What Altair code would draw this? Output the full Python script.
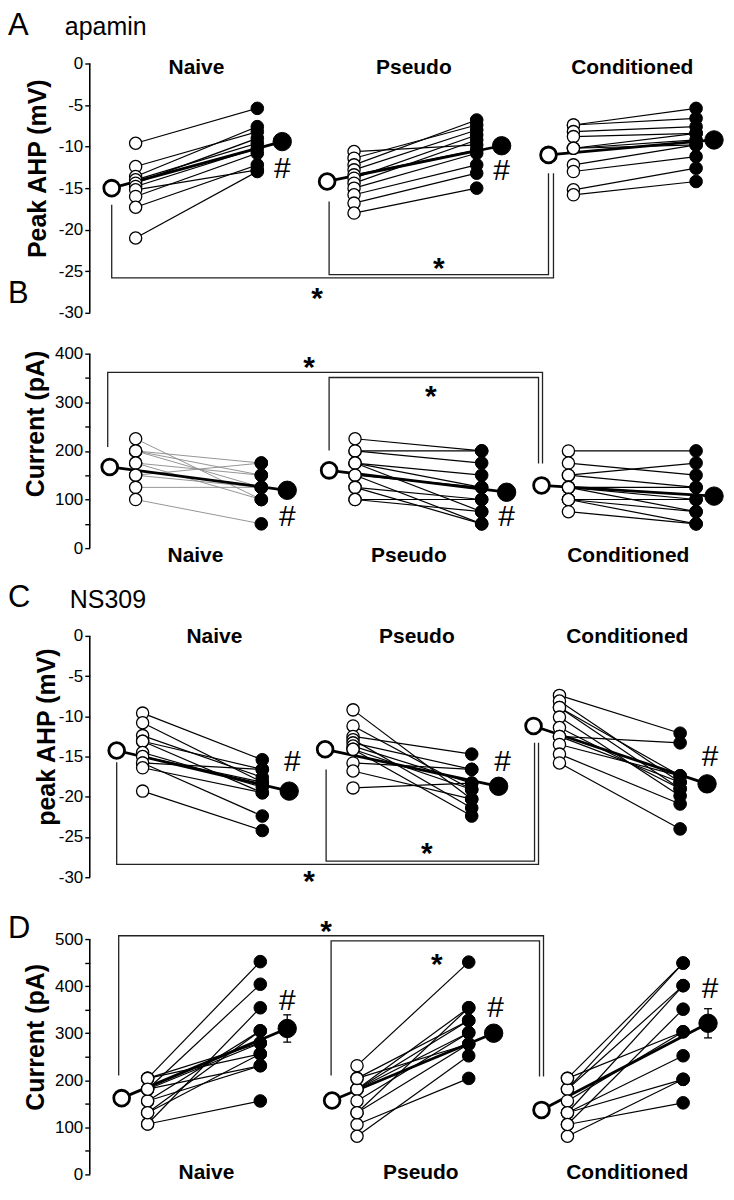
import altair as alt
import pandas as pd

GROUPS = ["Naive", "Pseudo", "Conditioned"]

# ---------------- data ----------------
# A : apamin, peak AHP (mV)  -- before (open) / after (filled)
A_NAIVE_PRE = [-9.6, -12.4, -13.6, -14.0, -14.4, -14.8, -15.2, -16.0, -17.3, -21.0]
A_NAIVE_POST = [-5.4, -8.2, -7.6, -9.6, -9.0, -10.2, -12.8, -10.8, -12.2, -13.0]
A_PSEUDO_PRE = [-10.6, -11.4, -12.2, -12.8, -13.4, -13.8, -14.4, -15.0, -15.8, -16.8, -18.0]
A_PSEUDO_POST = [-9.8, -7.4, -6.8, -8.0, -10.4, -8.6, -9.2, -10.8, -12.2, -13.2, -15.0]
A_COND_PRE = [-7.4, -7.4, -8.2, -8.8, -10.2, -10.2, -10.2, -12.2, -13.0, -15.2, -15.8]
A_COND_POST = [-5.4, -6.6, -7.6, -8.4, -9.2, -9.8, -8.4, -9.8, -11.2, -12.6, -14.2]
A_MEAN_PRE = [-15.0, -14.2, -11.0]
A_MEAN_POST = [-9.4, -9.9, -9.2]

# B : apamin, current (pA)
B_NAIVE_PRE = [225, 200, 200, 200, 175, 175, 150, 150, 125, 100]
B_NAIVE_POST = [100, 175, 150, 125, 150, 100, 125, 175, 125, 50]
B_PSEUDO_PRE = [225, 200, 200, 175, 175, 175, 150, 150, 125, 125, 100, 100]
B_PSEUDO_POST = [200, 200, 175, 150, 125, 75, 125, 50, 100, 50, 100, 75]
B_COND_PRE = [200, 175, 150, 150, 125, 125, 125, 100, 100, 100, 75]
B_COND_POST = [200, 150, 175, 125, 125, 100, 75, 100, 75, 50, 50]
B_MEAN_PRE = [167, 160, 129]
B_MEAN_POST = [119, 115, 107]

# C : NS309, peak AHP (mV)
C_NAIVE_PRE = [-9.6, -10.8, -12.4, -13.1, -13.1, -14.5, -15.0, -15.8, -15.8, -16.4, -19.3]
C_NAIVE_POST = [-15.4, -18.2, -17.6, -16.6, -19.5, -18.8, -18.2, -16.6, -22.4, -19.5, -24.2]
C_PSEUDO_PRE = [-9.2, -11.2, -12.5, -12.9, -13.3, -13.7, -14.1, -14.1, -15.8, -16.8, -18.9]
C_PSEUDO_POST = [-20.3, -19.1, -14.7, -21.4, -16.6, -18.3, -22.4, -19.1, -16.6, -20.3, -18.3]
C_COND_PRE = [-7.4, -8.1, -8.9, -8.9, -10.1, -11.4, -12.5, -12.5, -13.5, -14.7, -15.8]
C_COND_POST = [-12.1, -18.2, -19.0, -17.4, -19.9, -19.0, -13.3, -18.2, -17.4, -20.9, -24.0]
C_MEAN_PRE = [-14.25, -14.1, -11.2]
C_MEAN_POST = [-19.3, -18.7, -18.4]

# D : NS309, current (pA)
D_NAIVE_PRE = [204, 181, 107, 156, 204, 181, 131, 204, 156, 181, 107, 131]
D_NAIVE_POST = [452, 404, 354, 305, 279, 279, 256, 256, 231, 231, 156, 305]
D_PSEUDO_PRE = [231, 204, 181, 181, 181, 156, 131, 204, 106, 81, 131]
D_PSEUDO_POST = [451, 277, 354, 327, 301, 301, 277, 327, 204, 252, 354]
D_COND_PRE = [204, 181, 181, 131, 106, 156, 204, 131, 81, 131, 106]
D_COND_POST = [449, 449, 401, 401, 351, 303, 303, 252, 202, 202, 152]
D_MEAN_PRE = [162, 157, 137]
D_MEAN_POST = [310, 300, 321]
D_MEAN_SEM = [29, 12, 31]

# ---------------- layout / style ----------------
XW = 636  # plot width (x units == px from the y axis)
FONT = "Liberation Sans"

PANELS = [
    dict(
        pre=[A_NAIVE_PRE, A_PSEUDO_PRE, A_COND_PRE], post=[A_NAIVE_POST, A_PSEUDO_POST, A_COND_POST],
        mpre=A_MEAN_PRE, mpost=A_MEAN_POST, sem=None,
        height=322, domain=[-32.16, 6.48], yr=[-30, 0], ticks=list(range(-30, 1, 5)), major=5,
        title="Peak AHP (mV)", titleX=-39, titleY=159,
        xpos=[(22, 46, 168, 193), (238, 265, 388, 413), (460, 485, 608, 626)],
        gray_naive=False,
        brackets=[[(22, -17.0), (22, -25.8), (465, -25.8), (465, -13.2)],
                  [(240, -16.6), (240, -25.4), (460, -25.4), (460, -13.2)]],
        stars=[(228, -27.4), (350, -23.8)],
        hashes=[(193, -12.7), (413, -13.0)],
        labels=[(107, -0.6), (325, -0.6), (544, -0.6)],
        letter=("A", -82, 3.48), letter_base="alphabetic", sub=("apamin", -25, 3.48),
    ),
    dict(
        pre=[B_NAIVE_PRE, B_PSEUDO_PRE, B_COND_PRE], post=[B_NAIVE_POST, B_PSEUDO_POST, B_COND_POST],
        mpre=B_MEAN_PRE, mpost=B_MEAN_POST, sem=None,
        height=260, domain=[-86.15, 447.18], yr=[0, 400], ticks=list(range(0, 401, 50)), major=100,
        title="Current (pA)", titleX=-41, titleY=93,
        xpos=[(20, 46, 172, 198), (240, 266, 393, 418), (453, 480, 608, 626)],
        gray_naive=True,
        brackets=[[(18, 208), (18, 361.6), (454, 361.6), (454, 174)],
                  [(240, 201), (240, 351), (450, 351), (450, 174)]],
        stars=[(220, 386), (342, 328)],
        hashes=[(198, 63), (418, 63)],
        labels=[(106, -16.4), (320, -16.4), (540, -16.4)],
        letter=("B", -82, 523), letter_base="middle", sub=None,
    ),
    dict(
        pre=[C_NAIVE_PRE, C_PSEUDO_PRE, C_COND_PRE], post=[C_NAIVE_POST, C_PSEUDO_POST, C_COND_POST],
        mpre=C_MEAN_PRE, mpost=C_MEAN_POST, sem=None,
        height=312, domain=[-32.98, 5.70], yr=[-30, 0], ticks=list(range(-30, 1, 5)), major=5,
        title="peak AHP (mV)", titleX=-30, titleY=147,
        xpos=[(27, 53, 173, 200), (236, 264, 383, 410), (445, 471, 592, 619)],
        gray_naive=False,
        brackets=[[(27, -15.7), (27, -28.4), (450, -28.4), (450, -13.3)],
                  [(237, -16.6), (237, -28.0), (446, -28.0), (446, -13.3)]],
        stars=[(220, -29.6), (338, -26.1)],
        hashes=[(203, -15.7), (414, -15.7), (622, -15.1)],
        labels=[(125, -0.1), (328, -0.1), (539, -0.1)],
        letter=("C", -82, 4.71), letter_base="middle", sub=("NS309", -20, 4.46),
    ),
    dict(
        pre=[D_NAIVE_PRE, D_PSEUDO_PRE, D_COND_PRE], post=[D_NAIVE_POST, D_PSEUDO_POST, D_COND_POST],
        mpre=D_MEAN_PRE, mpost=D_MEAN_POST, sem=D_MEAN_SEM,
        height=284, domain=[-21.19, 580.51], yr=[0, 500], ticks=list(range(0, 501, 50)), major=100,
        title="Current (pA)", titleX=-41, titleY=136,
        xpos=[(32, 58, 171, 198), (243, 268, 380, 405), (453, 479, 595, 620)],
        gray_naive=False,
        brackets=[[(29, 210), (29, 507), (455, 507), (455, 208)],
                  [(242, 210), (242, 496), (451, 496), (451, 208)]],
        stars=[(237, 531), (348, 462)],
        hashes=[(198, 368), (407, 354), (622, 394)],
        labels=[(117, 2.1), (332, 2.1), (539, 2.1)],
        letter=("D", -82, 521), letter_base="middle", sub=None,
    ),
]


def build_panel(P):
    xs = alt.Scale(domain=[0, XW], nice=False, zero=False)
    ys = alt.Scale(domain=P["domain"], nice=False, zero=False)
    X = alt.X("x:Q", scale=xs, axis=None)

    if P["major"] == 5:
        lab = "'' + datum.value"
    else:
        lab = "datum.value % " + str(P["major"]) + " === 0 ? '' + datum.value : ''"
    axis = alt.Axis(
        values=P["ticks"], labelExpr=lab, domain=False, grid=False, ticks=True,
        tickSize=5, tickWidth=1.4, tickColor="black",
        labelFont=FONT, labelFontSize=17, labelColor="black", labelPadding=2,
        labelOverlap=False, labelFlush=False,
        title=P["title"], titleFont=FONT, titleFontSize=25, titleFontWeight="bold",
        titleColor="black", titleX=P["titleX"], titleY=P["titleY"], titleAngle=270,
        titleAlign="center", titleBaseline="bottom",
    )
    Y = alt.Y("y:Q", scale=ys, axis=axis)

    layers = []
    # axis line
    ax_df = pd.DataFrame({"x": [0], "y": [P["yr"][0]], "y2": [P["yr"][1]]})
    layers.append(alt.Chart(ax_df).mark_rule(color="black", strokeWidth=1.6).encode(
        x=X, y=Y, y2="y2:Q"))

    # significance brackets
    rows = []
    for bi, pts in enumerate(P["brackets"]):
        for oi, (bx, by) in enumerate(pts):
            rows.append(dict(b=bi, o=oi, x=bx, y=by))
    layers.append(alt.Chart(pd.DataFrame(rows)).mark_line(color="#222", strokeWidth=1.3).encode(
        x=X, y=Y, detail="b:N", order="o:Q"))

    # individual cells
    cell_rows, pre_rows, post_rows = [], [], []
    for gi, g in enumerate(GROUPS):
        xm0, xo, xf, xm1 = P["xpos"][gi]
        for ci, (b, a) in enumerate(zip(P["pre"][gi], P["post"][gi])):
            cid = f"{g}-{ci}"
            gray = P["gray_naive"] and gi == 0
            cell_rows.append(dict(cell=cid, x=xo, y=b, gray=gray))
            cell_rows.append(dict(cell=cid, x=xf, y=a, gray=gray))
            pre_rows.append(dict(x=xo, y=b))
            post_rows.append(dict(x=xf, y=a))
    cells = pd.DataFrame(cell_rows)
    black_cells = cells[~cells["gray"]]
    gray_cells = cells[cells["gray"]]
    if len(gray_cells):
        layers.append(alt.Chart(gray_cells).mark_line(color="#8a8a8a", strokeWidth=0.9).encode(
            x=X, y=Y, detail="cell:N"))
    if len(black_cells):
        layers.append(alt.Chart(black_cells).mark_line(color="black", strokeWidth=1.2).encode(
            x=X, y=Y, detail="cell:N"))

    # mean lines
    mrows, m0, m1 = [], [], []
    for gi, g in enumerate(GROUPS):
        xm0, xo, xf, xm1 = P["xpos"][gi]
        mrows.append(dict(g=g, x=xm0, y=P["mpre"][gi]))
        mrows.append(dict(g=g, x=xm1, y=P["mpost"][gi]))
        m0.append(dict(x=xm0, y=P["mpre"][gi]))
        m1.append(dict(x=xm1, y=P["mpost"][gi]))
    layers.append(alt.Chart(pd.DataFrame(mrows)).mark_line(color="black", strokeWidth=2.8).encode(
        x=X, y=Y, detail="g:N"))

    # error bars (SEM) on post means
    if P["sem"] is not None:
        eb, caps = [], []
        for gi in range(3):
            xm1 = P["xpos"][gi][3]
            lo = P["mpost"][gi] - P["sem"][gi]
            hi = P["mpost"][gi] + P["sem"][gi]
            eb.append(dict(x=xm1, y=lo, y2=hi))
            caps.append(dict(x=xm1 - 4, x2=xm1 + 4, y=lo))
            caps.append(dict(x=xm1 - 4, x2=xm1 + 4, y=hi))
        layers.append(alt.Chart(pd.DataFrame(eb)).mark_rule(color="black", strokeWidth=1.3).encode(
            x=X, y=Y, y2="y2:Q"))
        layers.append(alt.Chart(pd.DataFrame(caps)).mark_rule(color="black", strokeWidth=1.3).encode(
            x=X, x2="x2:Q", y=Y))

    # points
    layers.append(alt.Chart(pd.DataFrame(pre_rows)).mark_point(
        shape="circle", filled=True, fill="white", stroke="black", strokeWidth=1.3,
        size=150, opacity=1).encode(x=X, y=Y))
    layers.append(alt.Chart(pd.DataFrame(post_rows)).mark_point(
        shape="circle", filled=True, fill="black", stroke="black", strokeWidth=1,
        size=160, opacity=1).encode(x=X, y=Y))
    layers.append(alt.Chart(pd.DataFrame(m0)).mark_point(
        shape="circle", filled=True, fill="white", stroke="black", strokeWidth=2.8,
        size=250, opacity=1).encode(x=X, y=Y))
    layers.append(alt.Chart(pd.DataFrame(m1)).mark_point(
        shape="circle", filled=True, fill="black", stroke="black", strokeWidth=1,
        size=340, opacity=1).encode(x=X, y=Y))

    # texts
    def text_layer(items, size, weight="normal", align="center", dy=0, baseline="middle"):
        df = pd.DataFrame([dict(x=a, y=b, t=t) for (t, a, b) in items])
        return alt.Chart(df).mark_text(
            font=FONT, fontSize=size, fontWeight=weight, align=align, baseline=baseline,
            dy=dy, color="black").encode(x=X, y=Y, text="t:N")

    layers.append(text_layer([("*", sx, sy) for sx, sy in P["stars"]], 30, "bold", dy=8))
    layers.append(text_layer([("#", hx, hy) for hx, hy in P["hashes"]], 30))
    layers.append(text_layer([(g, lx, ly) for g, (lx, ly) in zip(GROUPS, P["labels"])], 21, "bold"))
    layers.append(text_layer([P["letter"]], 31, align="left", baseline=P["letter_base"]))
    if P["sub"]:
        layers.append(text_layer([P["sub"]], 25, align="left", baseline=P["letter_base"]))

    return alt.layer(*layers).properties(width=XW, height=P["height"])


chart = alt.vconcat(*[build_panel(P) for P in PANELS], spacing=0, bounds="flush",
                    padding=0).configure_view(stroke=None)

chart.save("out.html", embed_options={"renderer": "svg", "actions": False})
